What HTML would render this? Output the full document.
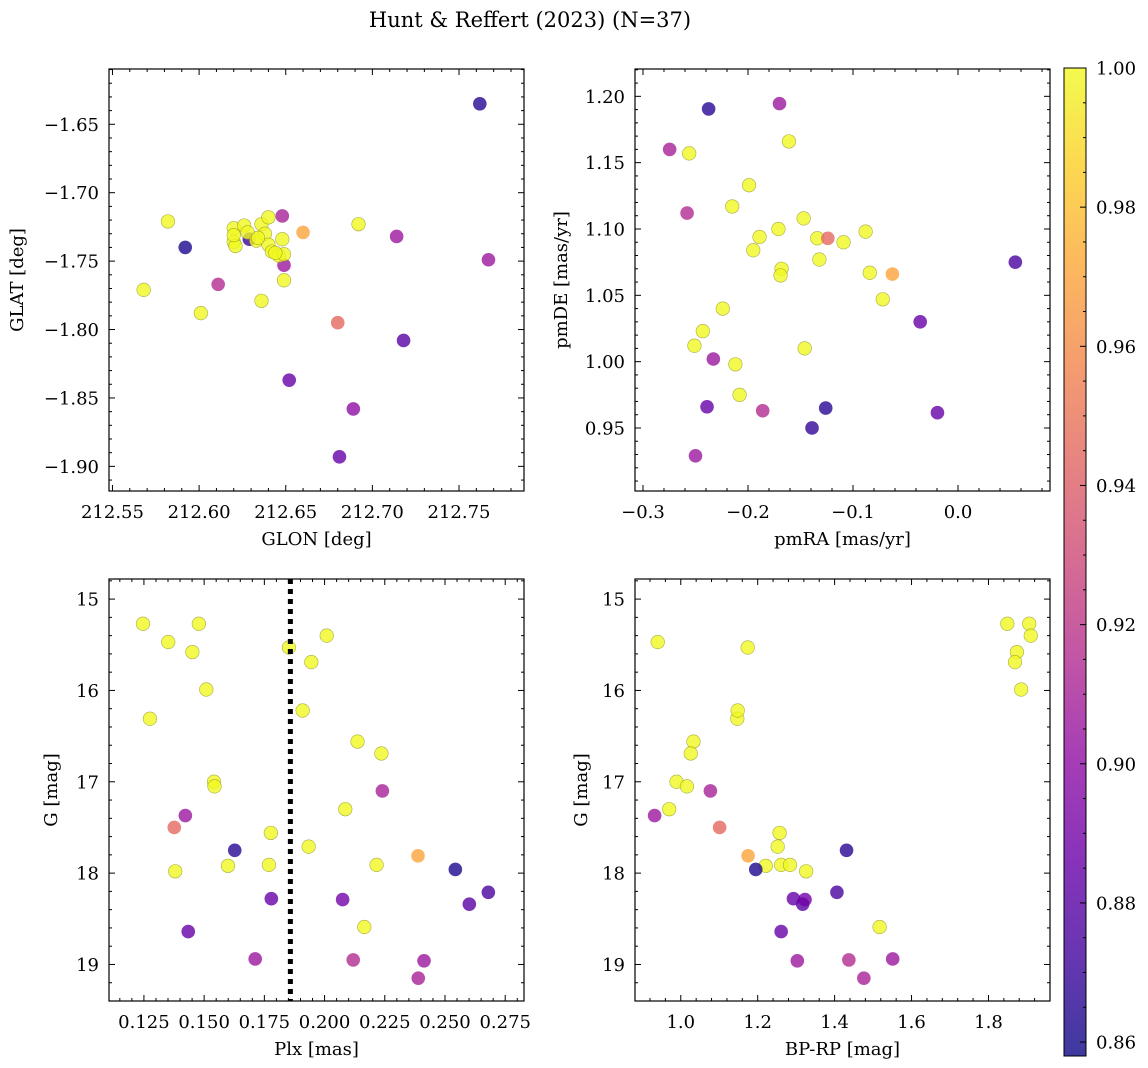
<!DOCTYPE html>
<html><head><meta charset="utf-8">
<style>
html,body{margin:0;padding:0;background:#fff;}
svg{display:block;font-family:"DejaVu Serif","Liberation Serif",serif;}
</style></head>
<body>
<svg id="fig" width="1148" height="1068" viewBox="0 0 1148 1068" xmlns="http://www.w3.org/2000/svg">
<defs>
<linearGradient id="plasma" x1="0" y1="1" x2="0" y2="0">
<stop offset="0" stop-color="#0d0887"/><stop offset="0.1" stop-color="#41049d"/><stop offset="0.2" stop-color="#6a00a8"/><stop offset="0.3" stop-color="#8f0da4"/><stop offset="0.4" stop-color="#b12a90"/><stop offset="0.5" stop-color="#cc4778"/><stop offset="0.6" stop-color="#e16462"/><stop offset="0.7" stop-color="#f2844b"/><stop offset="0.8" stop-color="#fca636"/><stop offset="0.9" stop-color="#fcce25"/><stop offset="1" stop-color="#f0f921"/>
</linearGradient>
</defs>
<text x="530" y="27" font-size="21" text-anchor="middle">Hunt &amp; Reffert (2023) (N=37)</text>
</svg>
<script>
// ---- Panel 1: GLON / GLAT ----
const glon = [212.762,212.582,212.592,212.568,212.601,212.611,212.636,212.648,212.660,212.692,212.714,212.767,212.649,212.649,212.680,212.718,212.652,212.689,212.681,212.629,212.620,212.626,212.620,212.621,212.628,212.633,212.636,212.640,212.638,212.640,212.642,212.646,212.648,212.649,212.634,212.620,212.644];
const glat = [-1.635,-1.721,-1.740,-1.771,-1.788,-1.767,-1.779,-1.717,-1.729,-1.723,-1.732,-1.749,-1.753,-1.764,-1.795,-1.808,-1.837,-1.858,-1.893,-1.734,-1.726,-1.724,-1.736,-1.739,-1.729,-1.735,-1.723,-1.718,-1.730,-1.738,-1.743,-1.746,-1.734,-1.745,-1.733,-1.731,-1.744];
const probA = [0.865,1,0.862,1,1,0.915,1,0.91,0.97,1,0.905,0.905,0.905,1,0.945,0.88,0.885,0.9,0.885,0.87,1,1,1,1,1,1,1,1,1,1,1,1,1,1,1,1,1];
// ---- Panel 2: pmRA / pmDE ----
const pmra = [-0.2375,-0.170,-0.2746,-0.256,-0.161,-0.199,-0.215,-0.258,-0.147,-0.171,-0.189,-0.195,-0.134,-0.124,-0.109,-0.088,-0.132,-0.168,-0.169,-0.084,-0.0625,0.0546,-0.0717,-0.224,-0.036,-0.243,-0.251,-0.233,-0.212,-0.146,-0.208,-0.239,-0.186,-0.126,-0.139,-0.0196,-0.250];
const pmde = [1.1905,1.1945,1.160,1.157,1.166,1.133,1.117,1.112,1.108,1.100,1.094,1.084,1.093,1.093,1.090,1.098,1.077,1.070,1.065,1.067,1.066,1.075,1.047,1.040,1.030,1.023,1.012,1.002,0.998,1.010,0.975,0.966,0.963,0.965,0.950,0.9615,0.929];
const probB = [0.865,0.905,0.91,1,1,1,1,0.915,1,1,1,1,1,0.945,1,1,1,1,1,1,0.97,0.875,1,1,0.885,1,1,0.905,1,1,1,0.885,0.915,0.865,0.868,0.885,0.905];
// ---- Panels 3,4: Plx, G, BP-RP ----
const plx = [0.1246,0.1478,0.1351,0.1451,0.1509,0.1275,0.1852,0.2009,0.1945,0.1909,0.2137,0.2236,0.1541,0.1543,0.2240,0.2086,0.1422,0.1376,0.1777,0.1627,0.1934,0.2388,0.1380,0.1599,0.1769,0.2216,0.2543,0.2680,0.2601,0.1779,0.2075,0.2165,0.1434,0.1712,0.2119,0.2413,0.2389];
const gmag = [15.27,15.27,15.47,15.58,15.99,16.31,15.53,15.40,15.69,16.22,16.56,16.69,17.00,17.05,17.10,17.30,17.37,17.50,17.56,17.75,17.71,17.81,17.98,17.92,17.91,17.91,17.96,18.21,18.34,18.28,18.29,18.59,18.64,18.94,18.95,18.96,19.15];
const bprp = [1.849,1.906,0.940,1.874,1.885,1.147,1.174,1.910,1.869,1.148,1.033,1.026,0.989,1.016,1.077,0.970,0.932,1.101,1.257,1.431,1.252,1.175,1.326,1.221,1.261,1.284,1.195,1.406,1.317,1.293,1.323,1.517,1.261,1.551,1.437,1.303,1.476];
const probC = [1,1,1,1,1,1,1,1,1,1,1,1,1,1,0.91,1,0.905,0.945,1,0.865,1,0.97,1,1,1,1,0.862,0.875,0.88,0.885,0.89,1,0.885,0.905,0.915,0.905,0.91];
const plxCut = [0.1858];
const cbTicks = [0.86,0.88,0.90,0.92,0.94,0.96,0.98,1.00];

const VMIN = 0.858, VMAX = 1.0;
const NS = "http://www.w3.org/2000/svg";
const svg = document.getElementById('fig');
const TICKFS = 18, LABFS = 18;
const stops = [[13,8,135],[65,4,157],[106,0,168],[143,13,164],[177,42,144],[204,71,120],[225,100,98],[242,132,75],[252,166,54],[252,206,37],[240,249,33]];
function plasma(v){
  let t = Math.max(0, Math.min(1, (v - VMIN) / (VMAX - VMIN))) * 10;
  let i = Math.min(9, Math.floor(t)), f = t - i;
  const c = stops[i].map((a, k) => Math.round(a + (stops[i + 1][k] - a) * f));
  return 'rgb(' + c.join(',') + ')';
}
function el(tag, attrs, parent){
  const e = document.createElementNS(NS, tag);
  for (const k in attrs) e.setAttribute(k, attrs[k]);
  (parent || svg).appendChild(e);
  return e;
}
function fmt(v, d){ return (v < 0 ? '\u2212' : '') + Math.abs(v).toFixed(d); }

function panel(o){
  const g = el('g', {});
  
  
  const sx = v => o.x0 + (v - o.xd[0]) / (o.xd[1] - o.xd[0]) * (o.x1 - o.x0);
  const sy = o.yrev
    ? (v => o.y0 + (v - o.yd[0]) / (o.yd[1] - o.yd[0]) * (o.y1 - o.y0))
    : (v => o.y1 - (v - o.yd[0]) / (o.yd[1] - o.yd[0]) * (o.y1 - o.y0));
  for (let i = 0; i < o.xs.length; i++) {
    const c = el('circle', {cx: sx(o.xs[i]), cy: sy(o.ys[i]), r: 6.8, fill: plasma(o.cs[i]), 'fill-opacity': 0.8,
      stroke: o.cs[i] > 0.99 ? '#8a8a20' : 'none', 'stroke-width': 0.6, 'stroke-opacity': 0.7}, g);
    
    
  }
  if (o.extra) o.extra(g, sx, sy);
  const fr = el('rect', {x: o.x0, y: o.y0, width: o.x1 - o.x0, height: o.y1 - o.y0, fill: 'none', stroke: '#000', 'stroke-width': 1.2}, g);
  
  
  const eps = 1e-9;
  for (let v = Math.ceil(o.xd[0] / o.xmin - eps) * o.xmin; v <= o.xd[1] + eps; v += o.xmin) {
    const isMaj = Math.abs(v / o.xmaj - Math.round(v / o.xmaj)) < 1e-4;
    const L = isMaj ? 6 : 3, x = sx(v);
    el('line', {x1: x, x2: x, y1: o.y1, y2: o.y1 - L, stroke: '#000', 'stroke-width': 1}, g);
    el('line', {x1: x, x2: x, y1: o.y0, y2: o.y0 + L, stroke: '#000', 'stroke-width': 1}, g);
    if (isMaj) {
      const t = el('text', {x: x, y: o.y1 + 27, 'font-size': TICKFS, 'text-anchor': 'middle'}, g);
      t.textContent = fmt(Math.round(v / o.xmaj) * o.xmaj, o.xdec);
      
      
    }
  }
  for (let v = Math.ceil(o.yd[0] / o.ymin - eps) * o.ymin; v <= o.yd[1] + eps; v += o.ymin) {
    const isMaj = Math.abs(v / o.ymaj - Math.round(v / o.ymaj)) < 1e-4;
    const L = isMaj ? 6 : 3, y = sy(v);
    el('line', {x1: o.x0, x2: o.x0 + L, y1: y, y2: y, stroke: '#000', 'stroke-width': 1}, g);
    el('line', {x1: o.x1, x2: o.x1 - L, y1: y, y2: y, stroke: '#000', 'stroke-width': 1}, g);
    if (isMaj) {
      const t = el('text', {x: o.x0 - 10, y: y + 6.5, 'font-size': TICKFS, 'text-anchor': 'end'}, g);
      t.textContent = fmt(Math.round(v / o.ymaj) * o.ymaj, o.ydec);
      
      
    }
  }
  const xt = el('text', {x: (o.x0 + o.x1) / 2, y: o.y1 + 54, 'font-size': LABFS, 'text-anchor': 'middle'}, g);
  xt.textContent = o.xlabel;
  
  
  const yt = el('text', {x: o.ylx, y: (o.y0 + o.y1) / 2, 'font-size': LABFS, 'text-anchor': 'middle', transform: 'rotate(-90 ' + o.ylx + ' ' + (o.y0 + o.y1) / 2 + ')'}, g);
  yt.textContent = o.ylabel;
  
  
}

panel({name: 'glon-glat-panel', x0: 109, x1: 524, y0: 69, y1: 491, xd: [212.548, 212.7875], yd: [-1.918, -1.6096],
  xs: glon, ys: glat, cs: probA, xmaj: 0.05, xmin: 0.01, ymaj: 0.05, ymin: 0.01, xdec: 2, ydec: 2,
  xlabel: 'GLON [deg]', ylabel: 'GLAT [deg]', ylx: 23});
panel({name: 'proper-motion-panel', x0: 635, x1: 1050, y0: 69, y1: 491, xd: [-0.3076, 0.0876], yd: [0.9025, 1.2206],
  xs: pmra, ys: pmde, cs: probB, xmaj: 0.1, xmin: 0.02, ymaj: 0.05, ymin: 0.01, xdec: 1, ydec: 2,
  xlabel: 'pmRA [mas/yr]', ylabel: 'pmDE [mas/yr]', ylx: 567});
panel({name: 'plx-g-panel', x0: 109, x1: 524, y0: 579, y1: 1001, xd: [0.1105, 0.2828], yd: [14.78, 19.40], yrev: true,
  xs: plx, ys: gmag, cs: probC, xmaj: 0.025, xmin: 0.005, ymaj: 1, ymin: 0.2, xdec: 3, ydec: 0,
  xlabel: 'Plx [mas]', ylabel: 'G [mag]', ylx: 57,
  extra: function(g, sx, sy){
    const x = sx(plxCut[0]);
    const ln = el('line', {x1: x, x2: x, y1: 579, y2: 1001, stroke: '#000', 'stroke-width': 5, 'stroke-dasharray': '5,5'}, g);
    
    
  }});
panel({name: 'cmd-panel', x0: 635, x1: 1050, y0: 579, y1: 1001, xd: [0.881, 1.960], yd: [14.78, 19.40], yrev: true,
  xs: bprp, ys: gmag, cs: probC, xmaj: 0.2, xmin: 0.04, ymaj: 1, ymin: 0.2, xdec: 1, ydec: 0,
  xlabel: 'BP-RP [mag]', ylabel: 'G [mag]', ylx: 587});

const cb = el('g', {});


const CB = {x0: 1064, x1: 1086, y0: 68, y1: 1056};
const cy = v => CB.y1 - (v - VMIN) / (VMAX - VMIN) * (CB.y1 - CB.y0);
el('rect', {x: CB.x0, y: CB.y0, width: CB.x1 - CB.x0, height: CB.y1 - CB.y0, fill: 'url(#plasma)', 'fill-opacity': 0.8}, cb);
el('rect', {x: CB.x0, y: CB.y0, width: CB.x1 - CB.x0, height: CB.y1 - CB.y0, fill: 'none', stroke: '#000', 'stroke-width': 1}, cb);
for (let v = 0.86; v <= 1.0001; v += 0.005) {
  const maj = Math.abs(v * 50 - Math.round(v * 50)) < 1e-4;
  const y = cy(v);
  el('line', {x1: CB.x1, x2: CB.x1 - (maj ? 6 : 3), y1: y, y2: y, stroke: '#000', 'stroke-width': 1}, cb);
}
for (let i = 0; i < cbTicks.length; i++) {
  const t = el('text', {x: 1096, y: cy(cbTicks[i]) + 6.5, 'font-size': TICKFS}, cb);
  t.textContent = cbTicks[i].toFixed(2);
  
  
}
</script>
</body></html>
